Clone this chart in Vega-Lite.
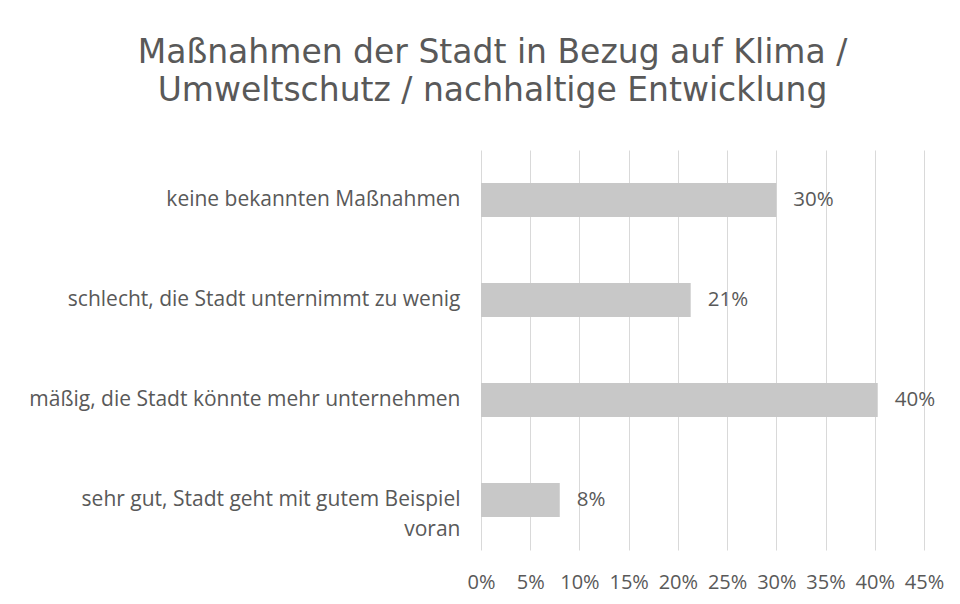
{
  "$schema": "https://vega.github.io/schema/vega-lite/v6.json",
  "autosize": "none",
  "width": 443,
  "height": 400,
  "padding": {"left": 481, "top": 150, "right": 36, "bottom": 54},
  "background": "#ffffff",
  "title": {
    "text": ["Maßnahmen der Stadt in Bezug auf Klima /", "Umweltschutz / nachhaltige Entwicklung"],
    "font": "DejaVu Sans",
    "fontSize": 33,
    "fontWeight": "normal",
    "color": "#595959",
    "anchor": "middle",
    "dx": -210,
    "offset": 42,
    "lineHeight": 38
  },
  "data": {
    "values": [
      {"kategorie": "keine bekannten Maßnahmen", "anteil": 0.30},
      {"kategorie": "schlecht, die Stadt unternimmt zu wenig", "anteil": 0.213},
      {"kategorie": "mäßig, die Stadt könnte mehr unternehmen", "anteil": 0.403},
      {"kategorie": "sehr gut, Stadt geht mit gutem Beispiel voran", "anteil": 0.08}
    ]
  },
  "encoding": {
    "y": {
      "field": "kategorie",
      "type": "nominal",
      "sort": null,
      "scale": {"paddingInner": 0.66, "paddingOuter": 0.33},
      "axis": {
        "title": null,
        "domain": false,
        "ticks": false,
        "labelFont": "Open Sans",
        "labelFontSize": 21,
        "labelColor": "#595959",
        "labelPadding": 21,
        "labelLimit": 500,
        "labelLineHeight": 30,
        "labelExpr": "datum.value == 'sehr gut, Stadt geht mit gutem Beispiel voran' ? ['sehr gut, Stadt geht mit gutem Beispiel', 'voran'] : datum.value"
      }
    },
    "x": {
      "field": "anteil",
      "type": "quantitative",
      "scale": {"domain": [0, 0.45], "nice": false},
      "axis": {
        "title": null,
        "format": ".0%",
        "values": [0, 0.05, 0.1, 0.15, 0.2, 0.25, 0.3, 0.35, 0.4, 0.45],
        "domain": false,
        "ticks": false,
        "grid": true,
        "gridColor": "#d9d9d9",
        "gridWidth": 1,
        "labelFont": "Open Sans",
        "labelFontSize": 20,
        "labelColor": "#595959",
        "labelPadding": 22,
        "labelFlush": false
      }
    }
  },
  "layer": [
    {"mark": {"type": "bar", "color": "#c8c8c8"}},
    {
      "mark": {"type": "text", "align": "left", "dx": 17, "font": "Open Sans", "fontSize": 20.5, "color": "#595959"},
      "encoding": {"text": {"field": "anteil", "type": "quantitative", "format": ".0%"}}
    }
  ],
  "config": {"view": {"stroke": null}}
}
